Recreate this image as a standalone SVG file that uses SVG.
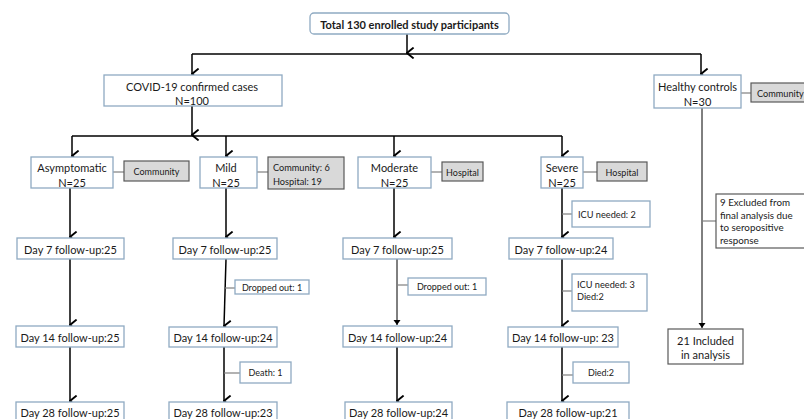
<svg xmlns="http://www.w3.org/2000/svg" width="804" height="419" viewBox="0 0 804 419">
<defs>
<marker id="arr" markerWidth="12" markerHeight="10" refX="5" refY="7" orient="auto-start-reverse" markerUnits="userSpaceOnUse" viewBox="0 0 10 8">
<path d="M0.5,1.5 L5,7 L9.5,1.5" fill="none" stroke="#000" stroke-width="1.6"/>
</marker>
<marker id="arrs" markerWidth="8" markerHeight="8" refX="4" refY="6" markerUnits="userSpaceOnUse" viewBox="0 0 8 8">
<path d="M0.5,1 L4,6 L7.5,1 Z" fill="#000"/>
</marker>
</defs>
<style>
text{font-family:Lato,"Liberation Sans",sans-serif;fill:#1a1a1a}
.b{fill:#fff;stroke:#8FAAC2;stroke-width:1.3}
.g{fill:#D9D9D9;stroke:#595959;stroke-width:1.2}
.d{fill:#fff;stroke:#595959;stroke-width:1.2}
.t{font-size:11px;text-anchor:middle;dominant-baseline:central}
.s{font-size:9.2px;dominant-baseline:central}
.sm{font-size:9px;text-anchor:middle;dominant-baseline:central}
.e{font-size:9.8px;dominant-baseline:central}
.ln{fill:none;stroke:#000;stroke-width:1.5}
.tn{fill:none;stroke:#000;stroke-width:1}
.tk{fill:none;stroke:#7F7F7F;stroke-width:1.2}
</style>
<rect width="804" height="419" fill="#fff"/>
<g id="connectors">
<path class="ln" d="M407 34 V53" marker-end="url(#arr)"/>
<path class="ln" d="M192 54 H701"/>
<path class="ln" d="M192 54 V74" marker-end="url(#arr)"/>
<path class="ln" d="M701 54 V74" marker-end="url(#arr)"/>
<path class="ln" d="M192 106 V135" marker-end="url(#arr)"/>
<path class="ln" d="M72 136 H562"/>
<path class="ln" d="M72 136 V156" marker-end="url(#arr)"/>
<path class="ln" d="M226 136 V156" marker-end="url(#arr)"/>
<path class="ln" d="M394 136 V156" marker-end="url(#arr)"/>
<path class="ln" d="M562 136 V156" marker-end="url(#arr)"/>
<path class="ln" d="M70 188 V237" marker-end="url(#arr)"/>
<path class="ln" d="M70 259 V325" marker-end="url(#arr)"/>
<path class="ln" d="M70 347 V401" marker-end="url(#arr)"/>
<path class="ln" d="M226 188 V237" marker-end="url(#arr)"/>
<path class="ln" d="M226 259 L224 326" marker-end="url(#arr)"/>
<path class="ln" d="M224 347 V401" marker-end="url(#arr)"/>
<path class="ln" d="M394 188 V237" marker-end="url(#arr)"/>
<path class="tn" d="M397 259 V325" marker-end="url(#arrs)"/>
<path class="ln" d="M397 347 V401" marker-end="url(#arr)"/>
<path class="ln" d="M562 188 V237" marker-end="url(#arr)"/>
<path class="ln" d="M562 259 V326" marker-end="url(#arr)"/>
<path class="ln" d="M562 347 V401" marker-end="url(#arr)"/>
<path class="tn" d="M702 108 V328" marker-end="url(#arrs)"/>
<path class="tk" d="M113 172 H124"/>
<path class="tk" d="M257 172 H268"/>
<path class="tk" d="M431 172 H442"/>
<path class="tk" d="M583 172 H597"/>
<path class="tk" d="M741 93 H751"/>
<path class="tk" d="M562 214 H572"/>
<path class="tk" d="M225 288 H235"/>
<path class="tk" d="M397 285 H408"/>
<path class="tk" d="M562 291 H572"/>
<path class="tk" d="M224 373 H240"/>
<path class="tk" d="M562 375 H573"/>
<path class="tk" d="M702 221 H716"/>
</g>
<g id="total"><rect class="b" x="310" y="13" width="199" height="21" rx="4"/><text class="t" x="409.5" y="24" font-weight="bold" font-size="11.1px">Total 130 enrolled study participants</text></g>
<g id="covid"><rect class="b" x="104" y="75" width="178" height="31"/><text class="t" x="192" y="86">COVID-19 confirmed cases</text><text class="t" x="192" y="100">N=100</text></g>
<g id="healthy"><rect class="b" x="654" y="75" width="87" height="33"/><text class="t" x="697.5" y="86">Healthy controls</text><text class="t" x="697.5" y="101">N=30</text></g>
<g id="healthy-community"><rect class="g" x="751" y="83" width="60" height="19"/><text class="s" x="757" y="93">Community</text></g>
<g id="asymptomatic"><rect class="b" x="31" y="157" width="82" height="31"/><text class="t" x="72" y="167">Asymptomatic</text><text class="t" x="72" y="182">N=25</text></g>
<g id="asym-community"><rect class="g" x="124" y="161" width="65" height="20"/><text class="sm" x="156.5" y="171">Community</text></g>
<g id="mild"><rect class="b" x="200" y="157" width="57" height="31"/><text class="t" x="226" y="167">Mild</text><text class="t" x="226" y="182">N=25</text></g>
<g id="mild-setting"><rect class="g" x="268" y="157" width="76" height="32"/><text class="s" x="273" y="167">Community: 6</text><text class="s" x="273" y="181">Hospital: 19</text></g>
<g id="moderate"><rect class="b" x="358" y="157" width="73" height="31"/><text class="t" x="394.5" y="167">Moderate</text><text class="t" x="394.5" y="182">N=25</text></g>
<g id="mod-hospital"><rect class="g" x="442" y="162" width="41" height="19"/><text class="sm" x="462.5" y="172">Hospital</text></g>
<g id="severe"><rect class="b" x="541" y="157" width="42" height="31"/><text class="t" x="562" y="167">Severe</text><text class="t" x="562" y="182">N=25</text></g>
<g id="sev-hospital"><rect class="g" x="597" y="162" width="50" height="19"/><text class="sm" x="622" y="172">Hospital</text></g>
<g id="icu2"><rect class="b" x="572" y="201" width="78" height="26"/><text class="s" x="578" y="214">ICU needed: 2</text></g>
<g id="asym-d7"><rect class="b" x="17" y="238" width="107" height="21"/><text class="t" x="70.5" y="249">Day 7 follow-up:25</text></g>
<g id="mild-d7"><rect class="b" x="173" y="238" width="104" height="21"/><text class="t" x="225" y="249">Day 7 follow-up:25</text></g>
<g id="mod-d7"><rect class="b" x="343" y="238" width="109" height="21"/><text class="t" x="397.5" y="249">Day 7 follow-up:25</text></g>
<g id="sev-d7"><rect class="b" x="509" y="238" width="104" height="21"/><text class="t" x="561" y="249">Day 7 follow-up:24</text></g>
<g id="mild-drop"><rect class="b" x="235" y="280" width="74" height="14"/><text class="sm" x="272" y="287.5">Dropped out: 1</text></g>
<g id="mod-drop"><rect class="b" x="408" y="278" width="78" height="17"/><text class="sm" x="447" y="286.5">Dropped out: 1</text></g>
<g id="icu3"><rect class="b" x="572" y="274" width="75" height="37"/><text class="s" x="577" y="284">ICU needed: 3</text><text class="s" x="577" y="296">Died:2</text></g>
<g id="excluded"><rect class="d" x="716" y="194" width="95" height="54"/><text class="e" x="720" y="202">9 Excluded from</text><text class="e" x="720" y="214.5">final analysis due</text><text class="e" x="720" y="227">to seropositive</text><text class="e" x="720" y="239.5">response</text></g>
<g id="asym-d14"><rect class="b" x="16" y="326" width="108" height="21"/><text class="t" x="70" y="337">Day 14 follow-up:25</text></g>
<g id="mild-d14"><rect class="b" x="169" y="327" width="108" height="20"/><text class="t" x="223" y="337.5">Day 14 follow-up:24</text></g>
<g id="mod-d14"><rect class="b" x="343" y="326" width="109" height="21"/><text class="t" x="397.5" y="337">Day 14 follow-up:24</text></g>
<g id="sev-d14"><rect class="b" x="508" y="327" width="110" height="20"/><text class="t" x="563" y="337.5">Day 14 follow-up: 23</text></g>
<g id="death"><rect class="b" x="240" y="362" width="51" height="21"/><text class="sm" x="265.5" y="372.5">Death: 1</text></g>
<g id="died2"><rect class="b" x="573" y="362" width="56" height="21"/><text class="sm" x="601" y="372.5">Died:2</text></g>
<g id="included"><rect class="d" x="668" y="329" width="75" height="35" stroke="#808080"/><text class="t" x="705.5" y="340">21 Included</text><text class="t" x="705.5" y="354">in analysis</text></g>
<g id="asym-d28"><rect class="b" x="16" y="402" width="108" height="22"/><text class="t" x="70" y="412">Day 28 follow-up:25</text></g>
<g id="mild-d28"><rect class="b" x="169" y="402" width="108" height="22"/><text class="t" x="223" y="412">Day 28 follow-up:23</text></g>
<g id="mod-d28"><rect class="b" x="345" y="402" width="107" height="22"/><text class="t" x="398.5" y="412">Day 28 follow-up:24</text></g>
<g id="sev-d28"><rect class="b" x="507" y="402" width="122" height="22"/><text class="t" x="568" y="412">Day 28 follow-up:21</text></g>
</svg>
